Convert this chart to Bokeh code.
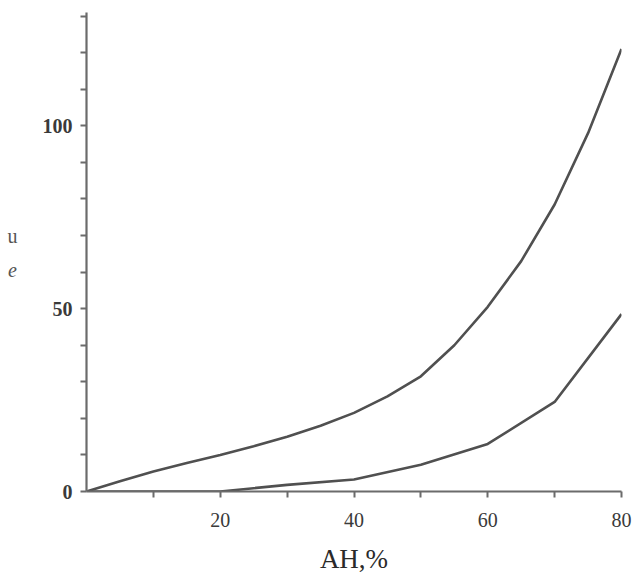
from bokeh.plotting import figure
from bokeh.models import FixedTicker, Range1d
from bokeh.layouts import row
from bokeh.core.properties import value
from bokeh.embed import file_html
from bokeh.resources import INLINE

# data
ah_upper = [0, 5, 10, 15, 20, 25, 30, 35, 40, 45, 50, 55, 60, 65, 70, 75, 80]
upper_curve = [0, 2.8, 5.5, 7.8, 10, 12.4, 15, 18, 21.5, 26, 31.5, 40, 50.5, 63, 78.5, 98, 121]
ah_lower = [0, 10, 20, 30, 40, 50, 60, 70, 80]
lower_curve = [0, 0, 0, 1.8, 3.3, 7.3, 13, 24.5, 48.5]

x_major = [20, 40, 60, 80]
x_minor = [10, 30, 50, 70]
y_major = [0, 50, 100]
y_minor = [10, 20, 30, 40, 60, 70, 80, 90, 110, 120, 130]

y_title_top = "u"
y_title_bottom = "e"

FONT = "Liberation Serif"
AXIS_COL = "#6b6b6b"
LINE_COL = "#505050"
SIDE_W = 30
TOP, BOTTOM = 12, 492   # frame top / bottom in page pixels

# narrow side panel carrying the stacked y title (its frame is aligned with the main frame)
side = figure(width=SIDE_W, height=576, output_backend="svg", toolbar_location=None,
              x_range=Range1d(0, SIDE_W), y_range=Range1d(BOTTOM, TOP),
              x_axis_location=None, y_axis_location=None,
              min_border_left=0, min_border_right=0, min_border_top=TOP,
              min_border_bottom=576 - BOTTOM)
side.grid.visible = False
side.outline_line_color = None
side.text(x=[12], y=[236], text=[y_title_top], text_font=value(FONT),
          text_font_size="20px", text_color="#555555",
          text_align="center", text_baseline="middle")
side.text(x=[12], y=[270], text=[y_title_bottom], text_font=value(FONT),
          text_font_size="20px", text_font_style="italic", text_color="#555555",
          text_align="center", text_baseline="middle")

p = figure(width=634 - SIDE_W, height=576, output_backend="svg", toolbar_location=None,
           x_range=Range1d(0, 80), y_range=Range1d(0, 131),
           min_border_left=86 - SIDE_W, min_border_right=13, min_border_top=TOP,
           min_border_bottom=576 - BOTTOM)
p.outline_line_color = None
p.grid.visible = False
p.background_fill_color = "white"

p.line(ah_upper, upper_curve, line_color=LINE_COL, line_width=2.6)
p.line(ah_lower, lower_curve, line_color=LINE_COL, line_width=2.6)

for ax in (p.xaxis[0], p.yaxis[0]):
    ax.axis_line_color = AXIS_COL
    ax.axis_line_width = 2.2
    ax.major_tick_line_color = AXIS_COL
    ax.minor_tick_line_color = AXIS_COL
    ax.major_tick_line_width = 2
    ax.minor_tick_line_width = 2
    ax.major_tick_in = 0
    ax.minor_tick_in = 0
    ax.major_tick_out = 6
    ax.minor_tick_out = 6
    ax.major_label_text_font = FONT
    ax.major_label_text_font_size = "20px"
    ax.major_label_text_color = "#3a3a3a"
    ax.axis_label_text_font = FONT

p.xaxis[0].ticker = FixedTicker(ticks=x_major, minor_ticks=x_minor)
p.yaxis[0].ticker = FixedTicker(ticks=y_major, minor_ticks=y_minor)
p.yaxis[0].major_label_text_font_style = "bold"
p.yaxis[0].major_label_standoff = 8
p.xaxis[0].major_label_standoff = 15

p.xaxis[0].axis_label = "AH,%"
p.xaxis[0].axis_label_text_font_size = "27px"
p.xaxis[0].axis_label_text_font_style = "normal"
p.xaxis[0].axis_label_text_color = "#2a2a2a"
p.xaxis[0].axis_label_standoff = 14

layout = row(side, p, spacing=0)

open("out.html", "w").write(file_html(layout, INLINE))
